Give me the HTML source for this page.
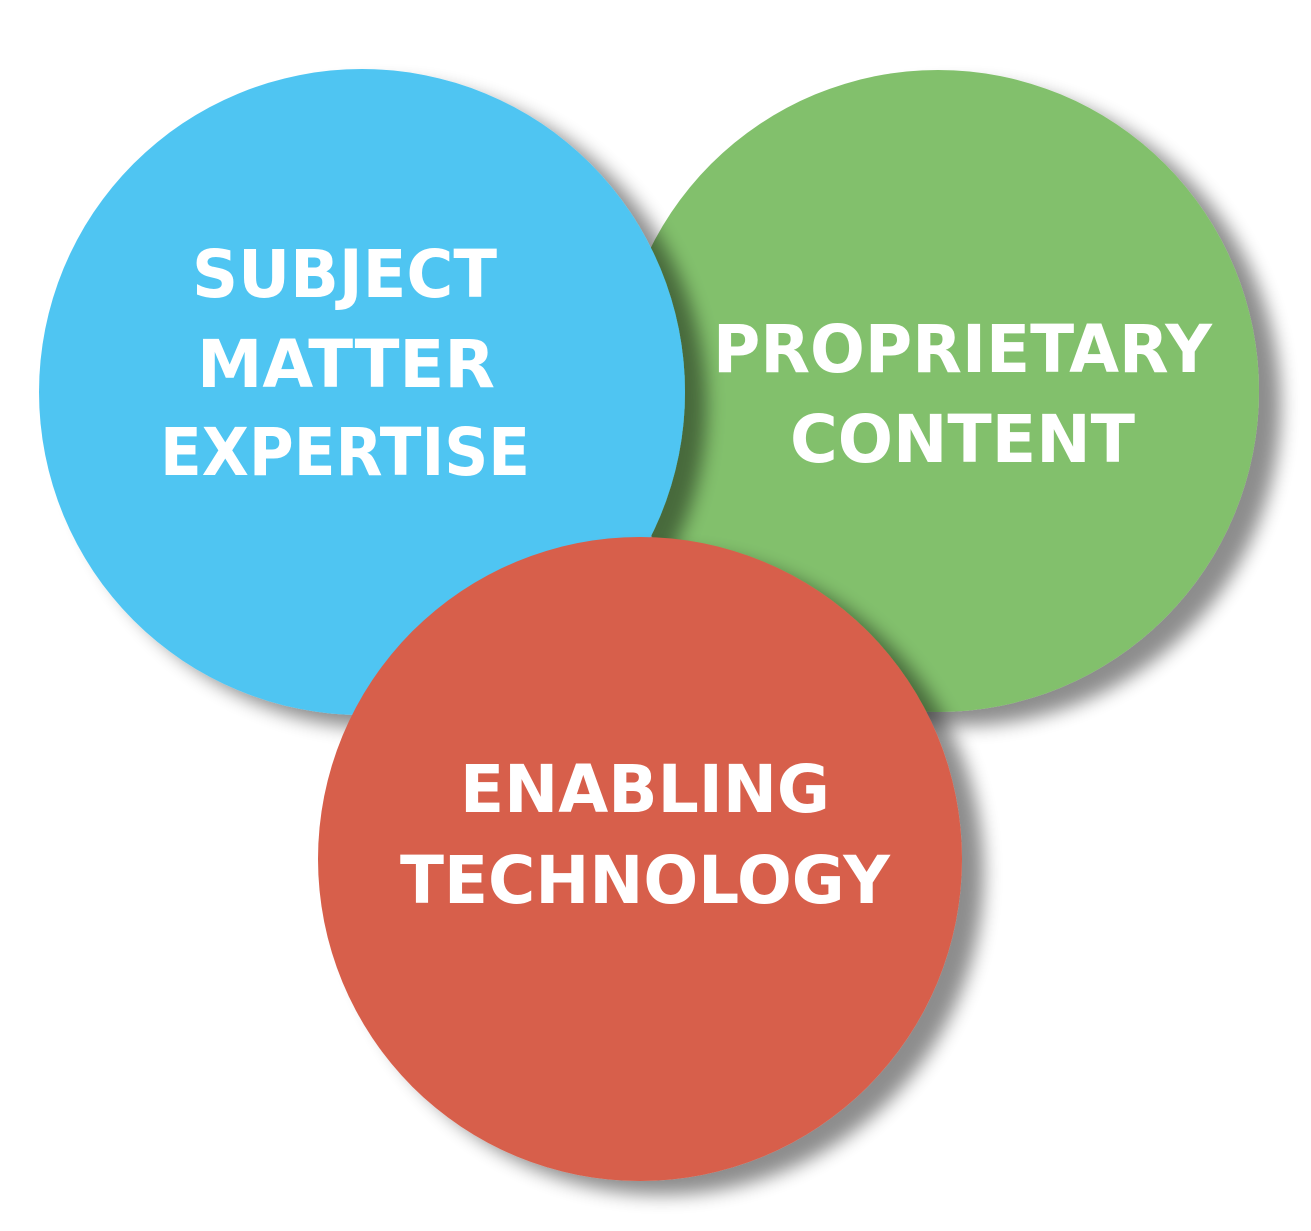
<!DOCTYPE html>
<html><head><style>html,body{margin:0;padding:0;background:#fff;width:1311px;height:1231px;overflow:hidden}</style></head>
<body>
<svg width="1311" height="1231" viewBox="0 0 1311 1231" xmlns="http://www.w3.org/2000/svg">
<defs>
<filter id="s" x="-20%" y="-20%" width="150%" height="150%">
<feGaussianBlur in="SourceAlpha" stdDeviation="9"/>
<feOffset dx="22" dy="14" result="b"/>
<feComponentTransfer><feFuncA type="linear" slope="0.45"/></feComponentTransfer>
<feMerge><feMergeNode/><feMergeNode in="SourceGraphic"/></feMerge>
</filter>
</defs>
<circle cx="938" cy="391" r="321" fill="#82C06C" filter="url(#s)"/>
<circle cx="362" cy="392" r="323" fill="#50C5F2" filter="url(#s)"/>
<circle cx="640" cy="859" r="322" fill="#D75F4B" filter="url(#s)"/>
<g fill="#fff" font-family="'DejaVu Sans','Liberation Sans',sans-serif" font-weight="bold" font-size="66" lengthAdjust="spacingAndGlyphs">
<text x="192" y="297" textLength="305" lengthAdjust="spacingAndGlyphs">SUBJECT</text>
<text x="197" y="387" textLength="298" lengthAdjust="spacingAndGlyphs">MATTER</text>
<text x="160" y="475" textLength="370" lengthAdjust="spacingAndGlyphs">EXPERTISE</text>
<text x="713" y="372" textLength="499" lengthAdjust="spacingAndGlyphs">PROPRIETARY</text>
<text x="790" y="462" textLength="345" lengthAdjust="spacingAndGlyphs">CONTENT</text>
<text x="460" y="812" textLength="370" lengthAdjust="spacingAndGlyphs">ENABLING</text>
<text x="400" y="903" textLength="490" lengthAdjust="spacingAndGlyphs">TECHNOLOGY</text>
</g>
</svg>
</body></html>
